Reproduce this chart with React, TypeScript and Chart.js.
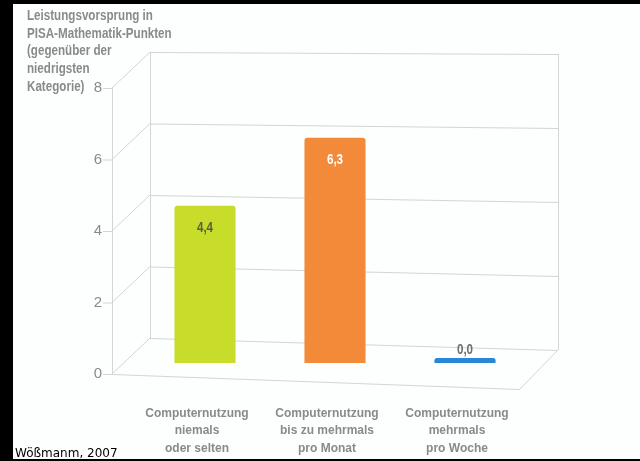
import React, { useEffect, useRef } from "react";
import { Chart, registerables } from "chart.js";

Chart.register(...registerables);

const categories = [
  ["Computernutzung", "niemals", "oder selten"],
  ["Computernutzung", "bis zu mehrmals", "pro Monat"],
  ["Computernutzung", "mehrmals", "pro Woche"],
];
const values = [4.4, 6.3, 0.0];
const valueLabels = ["4,4", "6,3", "0,0"];
const barColors = ["#c8dc2a", "#f28a3a", "#2a86d6"];
const valueLabelColors = ["#5a5c4a", "#ffffff", "#6e6e6e"];
const yTickValues = [0, 2, 4, 6, 8];
const titleLines = [
  "Leistungsvorsprung in",
  "PISA-Mathematik-Punkten",
  "(gegenüber der",
  "niedrigsten",
  "Kategorie)",
];
const sourceNote = "Wößmanm, 2007";

const FONT = "'Liberation Sans', Arial, sans-serif";
const DEPTH_X = 38;
const DEPTH_Y = -36;
const BAR_DX = 8;
const BAR_DY = -11;
const LINE_COLOR = "#d3d6d6";
const TEXT_GRAY = "#8a8a8a";
const CONDENSE = 0.83;

function line(ctx: CanvasRenderingContext2D, x1: number, y1: number, x2: number, y2: number) {
  ctx.beginPath();
  ctx.moveTo(x1, y1);
  ctx.lineTo(x2, y2);
  ctx.stroke();
}

function condensedText(ctx: CanvasRenderingContext2D, text: string, x: number, y: number, align: CanvasTextAlign) {
  ctx.save();
  ctx.translate(x, y);
  ctx.scale(CONDENSE, 1);
  ctx.textAlign = align;
  ctx.fillText(text, 0, 0);
  ctx.restore();
}

const frame3d = {
  id: "frame3d",
  beforeDraw(chart: any) {
    const { ctx, width, height } = chart;
    ctx.save();
    ctx.fillStyle = "#000000";
    ctx.fillRect(0, 0, width, height);
    ctx.fillStyle = "#fdfefe";
    ctx.fillRect(13, 4, width - 13, 455);
    ctx.restore();
  },
  beforeDatasetsDraw(chart: any) {
    const { ctx, chartArea, scales } = chart;
    const y = scales.y;
    const fx0 = chartArea.left - 20;
    const fx1 = chartArea.right - 2;
    const top = y.getPixelForValue(8);
    const bot = y.getPixelForValue(0);
    const slope = (v: number) => 12 - (10 * v) / 8;
    ctx.save();
    ctx.strokeStyle = LINE_COLOR;
    ctx.lineWidth = 1;
    line(ctx, fx0 + 0.5, top, fx0 + 0.5, bot);
    line(ctx, fx0 + DEPTH_X + 0.5, top + DEPTH_Y, fx0 + DEPTH_X + 0.5, bot + DEPTH_Y);
    line(ctx, fx1 + DEPTH_X + 0.5, top + DEPTH_Y + slope(8), fx1 + DEPTH_X + 0.5, bot + DEPTH_Y + slope(0));
    for (const v of yTickValues) {
      const py = y.getPixelForValue(v);
      line(ctx, fx0 - 9, py + 0.5, fx0, py + 0.5);
      line(ctx, fx0, py, fx0 + DEPTH_X, py + DEPTH_Y);
      line(ctx, fx0 + DEPTH_X, py + DEPTH_Y + 0.5, fx1 + DEPTH_X, py + DEPTH_Y + slope(v) + 0.5);
    }
    line(ctx, fx0, bot + 0.5, fx1, bot + 15.5);
    line(ctx, fx1 + DEPTH_X, bot + DEPTH_Y + slope(0), fx1, bot + 15);
    ctx.restore();
    ctx.save();
    ctx.translate(BAR_DX, BAR_DY);
  },
  afterDatasetsDraw(chart: any) {
    const { ctx } = chart;
    ctx.restore();
    const meta = chart.getDatasetMeta(0);
    ctx.save();
    ctx.font = `bold 14px ${FONT}`;
    ctx.textBaseline = "middle";
    meta.data.forEach((bar: any, i: number) => {
      const h = bar.base - bar.y;
      const x = bar.x + BAR_DX;
      const ty = h > 30 ? bar.y + BAR_DY + 22 : bar.y + BAR_DY - 8;
      ctx.fillStyle = valueLabelColors[i];
      condensedText(ctx, valueLabels[i], x, ty, "center");
    });
    ctx.restore();
  },
  afterDraw(chart: any) {
    const { ctx } = chart;
    ctx.save();
    ctx.fillStyle = TEXT_GRAY;
    ctx.font = `bold 14px ${FONT}`;
    ctx.textBaseline = "middle";
    titleLines.forEach((t, i) => condensedText(ctx, t, 27, 16 + i * 17.8, "left"));
    ctx.fillStyle = "#000000";
    ctx.font = `12px 'DejaVu Sans', sans-serif`;
    ctx.textAlign = "left";
    ctx.textBaseline = "alphabetic";
    ctx.fillText(sourceNote, 15, 457);
    ctx.restore();
  },
};

export default function App() {
  const ref = useRef<HTMLCanvasElement | null>(null);
  useEffect(() => {
    if (!ref.current) return;
    const chart = new Chart(ref.current, {
      type: "bar",
      data: {
        labels: categories,
        datasets: [
          {
            data: values,
            backgroundColor: barColors,
            borderWidth: 0,
            borderRadius: { topLeft: 3, topRight: 3, bottomLeft: 0, bottomRight: 0 },
            borderSkipped: "bottom",
            minBarLength: 5,
            barPercentage: 0.47,
            categoryPercentage: 1,
          },
        ],
      },
      options: {
        animation: false,
        responsive: false,
        maintainAspectRatio: false,
        layout: { padding: { left: 0, top: 88, right: 118, bottom: 0 } },
        plugins: { legend: { display: false }, tooltip: { enabled: false }, title: { display: false } },
        scales: {
          x: {
            grid: { display: false, drawTicks: false },
            border: { display: false },
            ticks: {
              padding: 31,
              color: TEXT_GRAY,
              font: { family: FONT, size: 12, weight: "bold", lineHeight: 1.45 },
              maxRotation: 0,
              autoSkip: false,
            },
            afterFit: (s: any) => {
              s.height = 87;
            },
          },
          y: {
            min: 0,
            max: 8,
            grid: { display: false, drawTicks: false },
            border: { display: false },
            ticks: {
              stepSize: 2,
              padding: 30,
              color: TEXT_GRAY,
              font: { family: FONT, size: 15 },
            },
            afterFit: (s: any) => {
              s.width = 132;
            },
          },
        },
      },
      plugins: [frame3d],
    });
    return () => chart.destroy();
  }, []);
  return (
    <div style={{ position: "fixed", left: 0, top: 0, width: 640, height: 461 }}>
      <canvas ref={ref} width={640} height={461} style={{ display: "block", width: 640, height: 461 }} />
    </div>
  );
}
